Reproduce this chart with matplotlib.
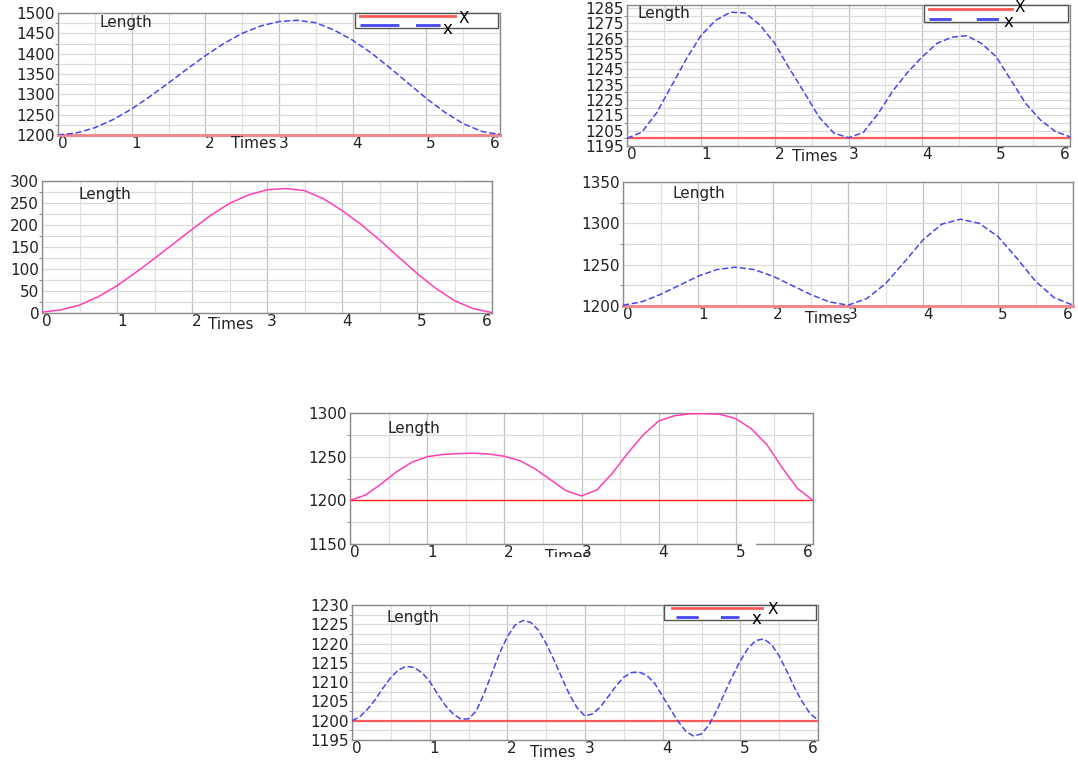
import numpy as np
import matplotlib
matplotlib.use('Agg')
import matplotlib.pyplot as plt
from matplotlib.patches import Rectangle

W, H = 1078, 760

# time grids
t_q = np.arange(0, 6.001, 0.25)
t_p = np.arange(0, 6.001, 0.2)
t_f = np.arange(0, 6.001, 0.1)

# panel 1 (top left) - blue dashed
len_a = [1200, 1205, 1218, 1238, 1264, 1295, 1328, 1362, 1395, 1425, 1450, 1468, 1479,
         1482, 1476, 1458, 1433, 1402, 1366, 1328, 1290, 1256, 1228, 1209, 1201]
# panel 2 (top right) - blue dashed
len_b = [1200, 1204, 1216.5, 1234, 1251.5, 1267, 1277, 1282.3, 1281.8, 1274, 1262,
         1245.5, 1230, 1214, 1203.5, 1200.4, 1203.8, 1216, 1231, 1243, 1253.3, 1262,
         1266, 1267, 1262, 1253.3, 1238, 1222.7, 1212, 1204.5, 1201]
# panel 3 (middle left) - pink
len_c = [2, 7, 18, 37, 62, 92, 124, 157, 190, 222, 249, 268, 280,
         283, 278, 260, 233, 202, 166, 128, 90, 56, 28, 10, 1]
# panel 4 (middle right) - blue dashed
len_d = [1201, 1205, 1214, 1225, 1236, 1244, 1247, 1244, 1236, 1225, 1214, 1205, 1201,
         1209, 1227, 1253, 1280, 1299, 1305, 1300, 1284, 1258, 1230, 1210, 1201]
# panel 5 (bottom centre) - pink
len_e = [1200, 1206, 1218.5, 1232.5, 1243.5, 1250, 1252.5, 1253.5, 1254, 1253, 1250.5,
         1245.5, 1236, 1223.5, 1211, 1205, 1212, 1231, 1254, 1275, 1290.8, 1296.8,
         1299, 1299.3, 1298.5, 1293.5, 1282, 1264, 1237.5, 1213.5, 1200]
# panel 6 (bottom) - blue dashed
len_f = [1200, 1201, 1203, 1205.5, 1208.5, 1211.2, 1213.2, 1214.1, 1213.8, 1212.5,
         1210.2, 1207, 1204, 1201.8, 1200.4, 1200.5, 1202.5, 1207, 1212.2, 1217.5,
         1221.8, 1224.8, 1226, 1225.5, 1223.5, 1220, 1215.8, 1211.2, 1206.8, 1203.3,
         1201.2, 1201.8, 1203.6, 1206.3, 1209, 1211.3, 1212.5, 1212.6, 1211.7, 1209.6,
         1206.3, 1203, 1199.8, 1197.2, 1196, 1196.6, 1199, 1202.8, 1207.3, 1211.6,
         1215.5, 1218.8, 1220.8, 1221.2, 1219.8, 1216.8, 1212.8, 1208.5, 1204.8,
         1201.8, 1200.2]

ref_len = 1200

RED = '#ff5a5a'
BLUE = '#4646f0'
PINK = '#ff3fb8'
FS = 11

fig = plt.figure(figsize=(W / 100, H / 100), dpi=100)


def add_axes(l, t, r, b):
    return fig.add_axes([l / W, 1 - b / H, (r - l) / W, (b - t) / H])


def setup(ax, ylim, ystep, len_xy, times_xy):
    ax.set_xlim(0, 6)
    ax.set_ylim(*ylim)
    yt = np.arange(ylim[0], ylim[1] + 0.01, ystep)
    ax.set_yticks(yt)
    ax.set_yticks(np.arange(ylim[0] + ystep / 2, ylim[1], ystep / 2), minor=True)
    ax.set_xticks(range(7))
    ax.set_xticks(np.arange(0.5, 6, 0.5), minor=True)
    ax.xaxis.grid(True, which='major', color='#c2c2c2', lw=0.9)
    ax.xaxis.grid(True, which='minor', color='#e0e0e0', lw=0.9)
    ax.yaxis.grid(True, which='both', color='#dadada', lw=0.9)
    ax.set_axisbelow(True)
    ax.tick_params(axis='both', which='major', length=0, labelsize=FS, colors='#222222')
    ax.tick_params(axis='x', pad=1)
    ax.tick_params(axis='y', pad=2)
    ax.tick_params(axis='x', which='minor', length=0)
    ax.tick_params(axis='y', which='minor', length=2.5, direction='out', color='#777777')
    labs = ax.get_xticklabels()
    for lb in labs[:-1]:
        lb.set_ha('left')
    labs[-1].set_ha('right')
    for s in ax.spines.values():
        s.set_color('#8a8a8a')
        s.set_linewidth(1)
    ax.text(len_xy[0], len_xy[1], 'Length', transform=ax.transAxes, fontsize=FS,
            ha='left', va='center', color='#222222')
    ax.text(times_xy[0], times_xy[1], 'Times', transform=ax.transAxes, fontsize=FS,
            ha='center', va='center', color='#222222')


def legend(ax, box, red_seg, blue_seg, x1, x2, dash):
    x0, x1b, y0 = box
    ax.add_patch(Rectangle((x0, y0), x1b - x0, 1 - y0, transform=ax.transAxes,
                           facecolor='white', edgecolor='#555555', lw=1, zorder=5,
                           clip_on=False))
    ax.plot(red_seg[:2], [red_seg[2]] * 2, transform=ax.transAxes, color=RED, lw=2,
            zorder=6, clip_on=False)
    ax.plot(blue_seg[:2], [blue_seg[2]] * 2, transform=ax.transAxes, color=BLUE, lw=2,
            dashes=dash, zorder=6, clip_on=False)
    ax.text(x1[0], x1[1], 'X', transform=ax.transAxes, fontsize=FS, ha='center',
            va='center', zorder=7)
    ax.text(x2[0], x2[1], 'x', transform=ax.transAxes, fontsize=FS + 1, ha='center',
            va='center', zorder=7)


# panel 1
ax1 = add_axes(58, 13, 500, 135)
ax1.plot(t_q, [ref_len] * len(t_q), color='#f28a8a', lw=2.2, clip_on=False, zorder=3)
ax1.plot(t_q, len_a, color=BLUE, lw=1.1, dashes=(4, 1.8), zorder=4)
setup(ax1, (1200, 1500), 50, (0.095, 0.925), (0.443, -0.066))
legend(ax1, (0.672, 0.995, 0.877), (0.683, 0.898, 0.972), (0.683, 0.864, 0.902),
       (0.918, 0.955), (0.881, 0.87), (14, 6))

# panel 2
ax2 = add_axes(627, 5, 1070, 146)
ax2.plot(t_p, [ref_len] * len(t_p), color=RED, lw=1.6, zorder=3)
ax2.plot(t_p, len_b, color=BLUE, lw=1.1, dashes=(4, 1.8), zorder=4)
setup(ax2, (1195, 1287), 10, (0.023, 0.94), (0.424, -0.078))
ax2.set_yticks(np.arange(1195, 1286, 10))
ax2.set_yticks(np.arange(1200, 1287, 5), minor=True)
legend(ax2, (0.670, 0.995, 0.879), (0.682, 0.868, 0.972), (0.682, 0.84, 0.9),
       (0.886, 0.985), (0.86, 0.88), (8, 9))

# panel 3
ax3 = add_axes(42, 181, 492, 313)
ax3.plot(t_q, len_c, color=PINK, lw=1.1, zorder=4)
setup(ax3, (0, 300), 50, (0.08, 0.894), (0.42, -0.09))

# panel 4
ax4 = add_axes(623, 182, 1073, 306)
ax4.plot(t_q, [ref_len] * len(t_q), color='#f28a8a', lw=2.2, clip_on=False, zorder=3)
ax4.plot(t_q, len_d, color=BLUE, lw=1.1, dashes=(4, 1.8), zorder=4)
setup(ax4, (1200, 1350), 50, (0.111, 0.91), (0.456, -0.097))

# panel 5
ax5 = add_axes(350, 413, 813, 544)
ax5.plot(t_p, [ref_len] * len(t_p), color='#ff2020', lw=1.0, zorder=3)
ax5.plot(t_p, len_e, color=PINK, lw=1.1, zorder=4)
setup(ax5, (1150, 1300), 50, (0.08, 0.885), (0.471, -0.095))

# panel 6
ax6 = add_axes(352, 605, 818, 740)
ax6.plot(t_f, [ref_len] * len(t_f), color=RED, lw=1.6, zorder=3)
ax6.plot(t_f, len_f, color=BLUE, lw=1.1, dashes=(4, 1.8), zorder=4)
setup(ax6, (1195, 1230), 5, (0.073, 0.91), (0.431, -0.089))
legend(ax6, (0.67, 0.995, 0.889), (0.687, 0.88, 0.978), (0.695, 0.83, 0.91),
       (0.903, 0.97), (0.867, 0.9), (8, 8))

# white cuts seen in the bottom centre panel
fig.patches.append(Rectangle((742 / W, 1 - 548 / H), 14 / W, 8 / H,
                             transform=fig.transFigure, facecolor='white',
                             edgecolor='none', zorder=20))
fig.patches.append(Rectangle((520 / W, 1 - 575 / H), 100 / W, 18 / H,
                             transform=fig.transFigure, facecolor='white',
                             edgecolor='none', zorder=20))

fig.savefig('out.png', dpi=100)
